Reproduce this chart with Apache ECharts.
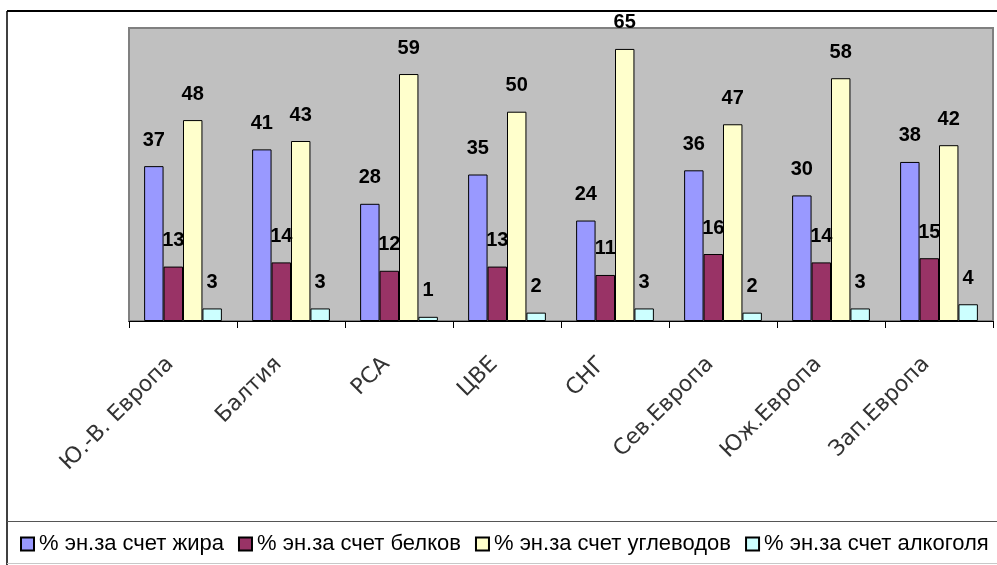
<!DOCTYPE html>
<html>
<head>
<meta charset="utf-8">
<script src="https://cdn.jsdelivr.net/npm/echarts@6/dist/echarts.min.js"></script>
<style>
  html, body { margin: 0; padding: 0; background: #fff; }
  #chart { width: 997px; height: 565px; }
</style>
</head>
<body>
<div id="chart"></div>
<script>
// Regions
const regions = ['Ю.-В. Европа', 'Балтия', 'РСА', 'ЦВЕ', 'СНГ', 'Сев.Европа', 'Юж.Европа', 'Зап.Европа'];

// Share of energy intake by source, %
const fatShare     = [37, 41, 28, 35, 24, 36, 30, 38];
const proteinShare = [13, 14, 12, 13, 11, 16, 14, 15];
const carbShare    = [48, 43, 59, 50, 65, 47, 58, 42];
const alcoholShare = [3, 3, 1, 2, 3, 2, 3, 4];

const seriesNames = [
  '% эн.за счет жира',
  '% эн.за счет белков',
  '% эн.за счет углеводов',
  '% эн.за счет алкоголя'
];
const seriesColors = ['#9999FF', '#993366', '#FFFFCC', '#CCFFFF'];
const seriesData = [fatShare, proteinShare, carbShare, alcoholShare];

const FONT = 'Arial, "Liberation Sans", sans-serif';

const chart = echarts.init(document.getElementById('chart'), null, { renderer: 'canvas' });

const series = seriesData.map((data, i) => ({
  name: seriesNames[i],
  type: 'bar',
  data: data,
  barGap: '0%',
  barCategoryGap: '28%',
  itemStyle: { color: seriesColors[i], borderColor: '#000', borderWidth: 1 },
  label: {
    show: true,
    position: 'top',
    distance: 16,
    color: '#000',
    fontSize: 20,
    fontWeight: 'bold',
    fontFamily: FONT
  },
  emphasis: { disabled: true }
}));

chart.setOption({
  animation: false,
  backgroundColor: '#fff',
  grid: {
    left: 129, top: 28, width: 864, height: 293,
    show: true,
    backgroundColor: '#C0C0C0',
    borderColor: '#808080',
    borderWidth: 2
  },
  xAxis: {
    type: 'category',
    data: regions,
    axisLine: { show: true, lineStyle: { color: '#000', width: 1 } },
    axisTick: { show: true, length: 7, interval: 0, lineStyle: { color: '#000', width: 1 } },
    axisLabel: {
      interval: 0,
      rotate: 45,
      margin: 27,
      padding: [0, 18, 0, 0],
      color: '#333',
      fontSize: 22,
      fontFamily: '"DejaVu Sans", sans-serif'
    }
  },
  yAxis: {
    type: 'value',
    min: 0,
    max: 70,
    axisLine: { show: false },
    axisTick: { show: false },
    axisLabel: { show: false },
    splitLine: { show: false }
  },
  legend: {
    left: 15,
    top: 528,
    width: 1400,
    itemWidth: 13,
    itemHeight: 13,
    itemGap: 14,
    icon: 'rect',
    textStyle: { color: '#000', fontSize: 22, fontFamily: FONT },
    selectedMode: false
  },
  graphic: [
    { type: 'line', shape: { x1: 7, y1: 11, x2: 997, y2: 11 }, style: { stroke: '#000', lineWidth: 2 } },
    { type: 'line', shape: { x1: 7, y1: 11, x2: 7, y2: 565 }, style: { stroke: '#000', lineWidth: 1.5 } },
    { type: 'line', shape: { x1: 7, y1: 521.5, x2: 997, y2: 521.5 }, style: { stroke: '#555', lineWidth: 1 } },
    { type: 'line', shape: { x1: 7, y1: 563.5, x2: 997, y2: 563.5 }, style: { stroke: '#c8c8c8', lineWidth: 1 } }
  ],
  series: series
});
</script>
</body>
</html>
